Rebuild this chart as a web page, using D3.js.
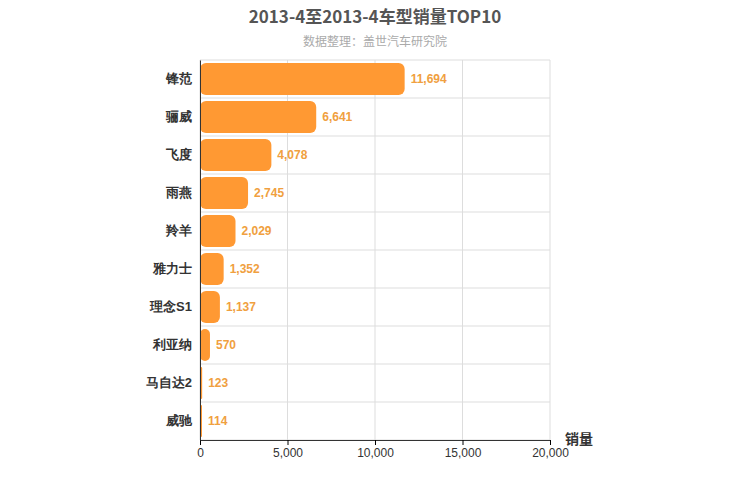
<!DOCTYPE html>
<html><head><meta charset="utf-8">
<script src="https://cdn.jsdelivr.net/npm/d3@7"></script>
<style>body{margin:0;background:#fff;font-family:"Noto Sans CJK SC","DejaVu Sans",sans-serif}</style>
</head><body><svg id="c" width="750" height="500"></svg>
<script>
const categories=["锋范","骊威","飞度","雨燕","羚羊","雅力士","理念S1","利亚纳","马自达2","威驰"];
const values=[11694,6641,4078,2745,2029,1352,1137,570,123,114];
const xTicks=[0,5000,10000,15000,20000];
const svg=d3.select("#c");
const L=200,R=550,T=60,B=440;
const x=d3.scaleLinear().domain([0,20000]).range([L,R]);
const y=d3.scaleBand().domain(categories).range([T,B]).paddingInner(0.16).paddingOuter(0.08);
const yb=d3.scaleBand().domain(categories).range([T,B]);
const g=svg.append("g");
g.selectAll(".vg").data(xTicks).join("line").attr("x1",d=>x(d)).attr("x2",d=>x(d)).attr("y1",T).attr("y2",B).attr("stroke","#ddd");
g.selectAll(".hg").data(categories).join("line").attr("x1",L).attr("x2",R).attr("y1",d=>yb(d)).attr("y2",d=>yb(d)).attr("stroke","#ddd");
g.append("line").attr("x1",L).attr("x2",R).attr("y1",B).attr("y2",B).attr("stroke","#ddd");
g.selectAll(".bar").data(values).join("rect").attr("x",L).attr("y",(d,i)=>y(categories[i])).attr("width",d=>x(d)-L).attr("height",y.bandwidth()).attr("rx",d=>Math.min(6,(x(d)-L)/2)).attr("fill","#ff9933");
g.selectAll(".lab").data(values).join("text").attr("x",d=>x(d)+6).attr("y",(d,i)=>y(categories[i])+y.bandwidth()/2+4).text(d=>d3.format(",")(d)).attr("fill","#f0a040").attr("font-size",12).attr("font-weight","bold").attr("font-family","Arial,Liberation Sans,sans-serif");
const xa=svg.append("g").attr("transform",`translate(0,${B})`).call(d3.axisBottom(x).tickValues(xTicks).tickFormat(d3.format(",")).tickSize(5));
xa.select(".domain").attr("stroke","#333");xa.selectAll("text").attr("font-size",12).attr("fill","#333").attr("font-family","Arial,Liberation Sans,sans-serif");
const ya=svg.append("g").attr("transform",`translate(${L},0)`).call(d3.axisLeft(yb).tickSize(0).tickPadding(8));
ya.select(".domain").attr("stroke","#333");ya.selectAll("text").attr("font-size",13).attr("font-weight","bold").attr("fill","#333");
svg.append("text").attr("x",375).attr("y",23).attr("text-anchor","middle").attr("font-size",17).attr("font-weight","bold").attr("fill","#555").text("2013-4至2013-4车型销量TOP10");
svg.append("text").attr("x",375).attr("y",46).attr("text-anchor","middle").attr("font-size",12).attr("fill","#aaa").text("数据整理：盖世汽车研究院");
svg.append("text").attr("x",565).attr("y",444).attr("font-size",14).attr("font-weight","bold").attr("fill","#333").text("销量");
</script></body></html>
